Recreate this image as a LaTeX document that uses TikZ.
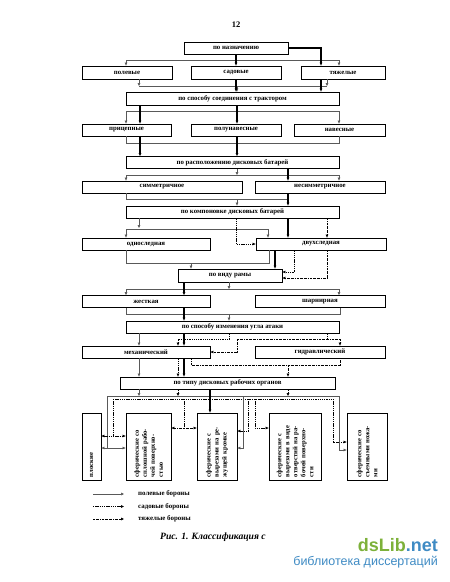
\documentclass[tikz,border=0pt]{standalone}
\usepackage{fontspec}
\setmainfont{Liberation Serif}
\newfontfamily\wmfont{Liberation Sans}
\usetikzlibrary{arrows.meta}
\definecolor{wmgreen}{HTML}{7DB13A}
\definecolor{wmblue}{HTML}{3F8BC4}
\tikzset{
  box/.style={draw, line width=0.8pt, inner sep=0pt, minimum height=12pt,
    font=\fontsize{6.8}{7}\selectfont\bfseries},
  vbox/.style={draw, line width=0.8pt, inner sep=0pt, minimum height=67pt},
  vtext/.style={rotate=90, text width=61pt, align=left, inner sep=0pt,
    font=\fontsize{6.6}{8}\selectfont\bfseries},
  pl/.style={line width=0.55pt, black!65},
  tl/.style={line width=1.1pt},
  sl/.style={line width=0.6pt, dash pattern=on 1.3pt off 0.9pt},
  hl/.style={line width=0.6pt, dash pattern=on 2pt off 0.9pt on 0.5pt off 0.9pt},
  arr/.style={-{Triangle[length=3pt,width=2.6pt]}},
  both/.style={{Triangle[length=3pt,width=2.6pt]}-{Triangle[length=3pt,width=2.6pt]}},
  lgtext/.style={anchor=west, inner sep=0pt, font=\fontsize{6.9}{7}\selectfont\bfseries}
}
\begin{document}
\begin{tikzpicture}[x=1pt,y=-1pt]
\useasboundingbox (0,0) rectangle (450,582);

\node[font=\fontsize{8.5}{9}\selectfont\bfseries] (pg) at (236,25) {12};

\node[box, minimum width=104pt] (nazn) at (236,48) {по назначению};
\node[box, minimum width=90pt, minimum height=13pt] (pol) at (127,72.5) {полевые};
\node[box, minimum width=90pt, minimum height=13pt] (sad) at (236,72.5) {садовые};
\node[box, minimum width=84pt, minimum height=13pt] (tyazh) at (343,72.5) {тяжелые};
\node[box, minimum width=213pt, minimum height=13pt] (soed) at (232.5,98.5) {по способу соединения с трактором};
\node[box, minimum width=89pt] (pric) at (126.5,130) {прицепные};
\node[box, minimum width=90pt] (polun) at (236,130) {полунавесные};
\node[box, minimum width=91pt] (nav) at (339.5,130) {навесные};
\node[box, minimum width=213pt] (rasp) at (232.5,162.5) {по расположению дисковых батарей};
\node[box, minimum width=160pt] (sim) at (162,187) {симметричное};
\node[box, minimum width=130pt] (nesim) at (320,187) {несимметричное};
\node[box, minimum width=213pt] (komp) at (232.5,212) {по компоновке дисковых батарей};
\node[box, minimum width=128pt] (odno) at (146,244) {односледная};
\node[box, minimum width=130pt] (dvuh) at (321,244) {двухследная};
\node[box, minimum width=104pt, minimum height=13pt] (rama) at (230,275.5) {по виду рамы};
\node[box, minimum width=128pt] (zhest) at (146,301.5) {жесткая};
\node[box, minimum width=130pt] (sharn) at (320,301.5) {шарнирная};
\node[box, minimum width=213pt] (ugol) at (232.5,327) {по способу изменения угла атаки};
\node[box, minimum width=128pt] (meh) at (146,352) {механический};
\node[box, minimum width=130pt] (gidr) at (320,352) {гидравлический};
\node[box, minimum width=215pt] (tip) at (227.5,383) {по типу дисковых рабочих органов};

\node[vbox, minimum width=19pt] (plosk) at (91.5,446.5) {};
\node[vbox, minimum width=45pt] (splosh) at (148.5,446.5) {};
\node[vbox, minimum width=40pt] (rezh) at (217,446.5) {};
\node[vbox, minimum width=52pt] (otv) at (295,446.5) {};
\node[vbox, minimum width=40pt] (nozh) at (367,446.5) {};
\node[vtext] (plosk-t) at (plosk) {плоские};
\node[vtext] (splosh-t) at (splosh) {сферические со\\ сплошной рабо-\\ чей поверхно-\\ стью};
\node[vtext] (rezh-t) at (rezh) {сферические с\\ вырезами на ре-\\ жущей кромке};
\node[vtext] (otv-t) at (otv) {сферические с\\ вырезами в виде\\ отверстий на ра-\\ бочей поверхно-\\ сти};
\node[vtext] (nozh-t) at (nozh) {сферические со\\ съемными ножа-\\ ми};

% по назначению
\draw[pl,arr] (nazn.south) |- (126,60) -- (126,0 |- pol.north);
\draw[pl,arr] (nazn.south) |- (339,60) -- (339,0 |- tyazh.north);
\draw[tl,arr] (nazn.south) -- (sad.north);
\draw[tl,arr] (nazn.east) -| (321,0 |- tyazh.north);

\draw[pl,arr] (139,0 |- pol.south) -- (139,86);
\draw[pl,arr] (327,0 |- tyazh.south) -- (327,86);
\draw[pl] (139,86) -- (327,86);
\draw[pl,arr] (237,86) -- (237,0 |- soed.north);
\draw[tl,arr] (sad.south) -- (sad.south |- soed.north);
\draw[tl,arr] (321,0 |- tyazh.south) -- (321,0 |- soed.north);

% по способу соединения
\draw[pl,arr] (237,0 |- soed.south) |- (126,111) -- (126,0 |- pric.north);
\draw[pl,arr] (237,0 |- soed.south) |- (339,111) -- (339,0 |- nav.north);
\draw[tl,arr] (140,0 |- soed.south) -- (140,0 |- pric.north);
\draw[tl,arr] (237,0 |- soed.south) -- (237,0 |- polun.north);

\draw[pl] (126,0 |- pric.south) |- (339,143) -- (339,0 |- nav.south);
\draw[tl,arr] (140,0 |- pric.south) -- (140,0 |- rasp.north);
\draw[tl,arr] (237,0 |- polun.south) -- (237,0 |- rasp.north);

% по расположению
\draw[pl,arr] (237,0 |- rasp.south) -- (237,175);
\draw[pl,arr] (339,175) -| (126,0 |- sim.north);
\draw[pl,arr] (126,175) -| (339,0 |- nesim.north);
\draw[tl,arr] (288,0 |- rasp.south) -- (288,0 |- nesim.north);

\draw[pl] (126,0 |- sim.south) |- (288,199);
\draw[pl,arr] (237,199) -- (237,0 |- komp.north);
\draw[tl,arr] (288,0 |- nesim.south) -- (288,0 |- komp.north);

% по компоновке
\draw[pl,arr] (139,0 |- komp.south) -- (139,228);
\draw[pl,arr] (268,229) -| (126,0 |- odno.north);
\draw[pl,arr] (126,229) -| (268,0 |- dvuh.north);
\draw[sl,arr] (236,0 |- komp.south) |- (dvuh.west);
\draw[tl,arr] (288,0 |- komp.south) -- (288,0 |- dvuh.north);
\draw[hl,arr] (327,0 |- komp.south) -- (327,0 |- dvuh.north);

\draw[pl] (126,0 |- odno.south) |- (269,263) -- (269,0 |- dvuh.south);
\draw[pl,arr] (191,263) -- (191,0 |- rama.north);
\draw[tl,arr] (275,0 |- dvuh.south) -- (275,0 |- rama.north);
\draw[sl,arr] (294,0 |- dvuh.south) |- (rama.east |- 0,272);
\draw[hl,arr] (327,0 |- dvuh.south) |- (rama.east |- 0,278);

% по виду рамы
\draw[pl,arr] (229,0 |- rama.south) -- (229,289);
\draw[pl,arr] (339,289) -| (126,0 |- zhest.north);
\draw[pl,arr] (126,289) -| (339,0 |- sharn.north);
\draw[tl,arr] (184,0 |- rama.south) -- (184,0 |- zhest.north);

\draw[pl] (126,0 |- zhest.south) |- (340,314) -- (340,0 |- sharn.south);
\draw[pl,arr] (229,314) -- (229,0 |- ugol.north);
\draw[tl,arr] (184,0 |- zhest.south) -- (184,0 |- ugol.north);

% по способу изменения угла атаки
\draw[pl,arr] (139,0 |- ugol.south) -- (139,0 |- meh.north);
\draw[tl,arr] (184,0 |- ugol.south) -- (184,0 |- meh.north);
\draw[sl,arr] (229,0 |- ugol.south) |- (178,339) -- (178,0 |- meh.north);
\draw[hl] (327,0 |- ugol.south) -- (327,339);
\draw[hl,arr] (237,339) -| (340,0 |- gidr.north);
\draw[hl,arr] (237,339) |- (meh.east |- 0,352);

\draw[pl,arr] (139,0 |- meh.south) -- (139,0 |- tip.north);
\draw[sl,arr] (178,0 |- meh.south) -- (178,0 |- tip.north);
\draw[tl,arr] (184,0 |- meh.south) -- (184,0 |- tip.north);
\draw[hl] (191,0 |- meh.south) |- (340,365) -- (340,0 |- gidr.south);
\draw[hl,arr] (288,365) -- (288,0 |- tip.north);

% по типу дисковых рабочих органов
\draw[pl,arr] (139,0 |- tip.south) -- (139,396);
\draw[sl,arr] (178,0 |- tip.south) -- (178,396);
\draw[hl,arr] (288,0 |- tip.south) -- (288,396);
\draw[pl] (107,396) -- (339,396);
\draw[sl] (113,399) -- (333,399);
\draw[tl,arr] (210,0 |- tip.south) -- (210,0 |- rezh.north);
\draw[pl] (107,396) -- (107,448);
\draw[pl,both] (plosk.east |- 0,448) -- (splosh.west |- 0,448);
\draw[sl] (113,399) -- (113,436);
\draw[sl,both] (plosk.east |- 0,436) -- (splosh.west |- 0,436);
\draw[sl] (184,399) -- (184,428);
\draw[hl,both] (splosh.east |- 0,428) -- (rezh.west |- 0,428);
\draw[pl,arr] (243,396) |- (rezh.east |- 0,448);
\draw[sl,arr] (248,399) |- (rezh.east |- 0,431);
\draw[sl,arr] (255,399) |- (otv.west |- 0,428);
\draw[sl,arr] (333,399) |- (nozh.west |- 0,442);
\draw[pl,arr] (339,396) |- (nozh.west |- 0,450);

% легенда
\node[lgtext] (lg1) at (138,494) {полевые бороны};
\node[lgtext] (lg2) at (138,506.5) {садовые бороны};
\node[lgtext] (lg3) at (138,519) {тяжелые бороны};
\draw[pl,arr] ([xshift=-45pt]lg1.west) -- ([xshift=-14pt]lg1.west);
\draw[sl,arr] ([xshift=-45pt]lg2.west) -- ([xshift=-14pt]lg2.west);
\draw[hl,arr] ([xshift=-45pt]lg3.west) -- ([xshift=-14pt]lg3.west);

\node[anchor=west, inner sep=0pt, font=\bfseries\itshape\fontsize{9.6}{10}\selectfont] (cap) at (160,537) {Рис. 1. Классификация с};
\fill[white] (266,527) rectangle (450,576);
\node[anchor=east, inner sep=0pt, font=\wmfont\bfseries\fontsize{18}{18}\selectfont] (wm) at (438,545)
  {\textcolor{wmgreen}{dsLib}\textcolor{wmblue}{.net}};
\node[anchor=east, inner sep=0pt, text=wmblue, font=\wmfont\fontsize{12.5}{13}\selectfont] (wmsub) at (438,562) {библиотека диссертаций};
\end{tikzpicture}
\end{document}
